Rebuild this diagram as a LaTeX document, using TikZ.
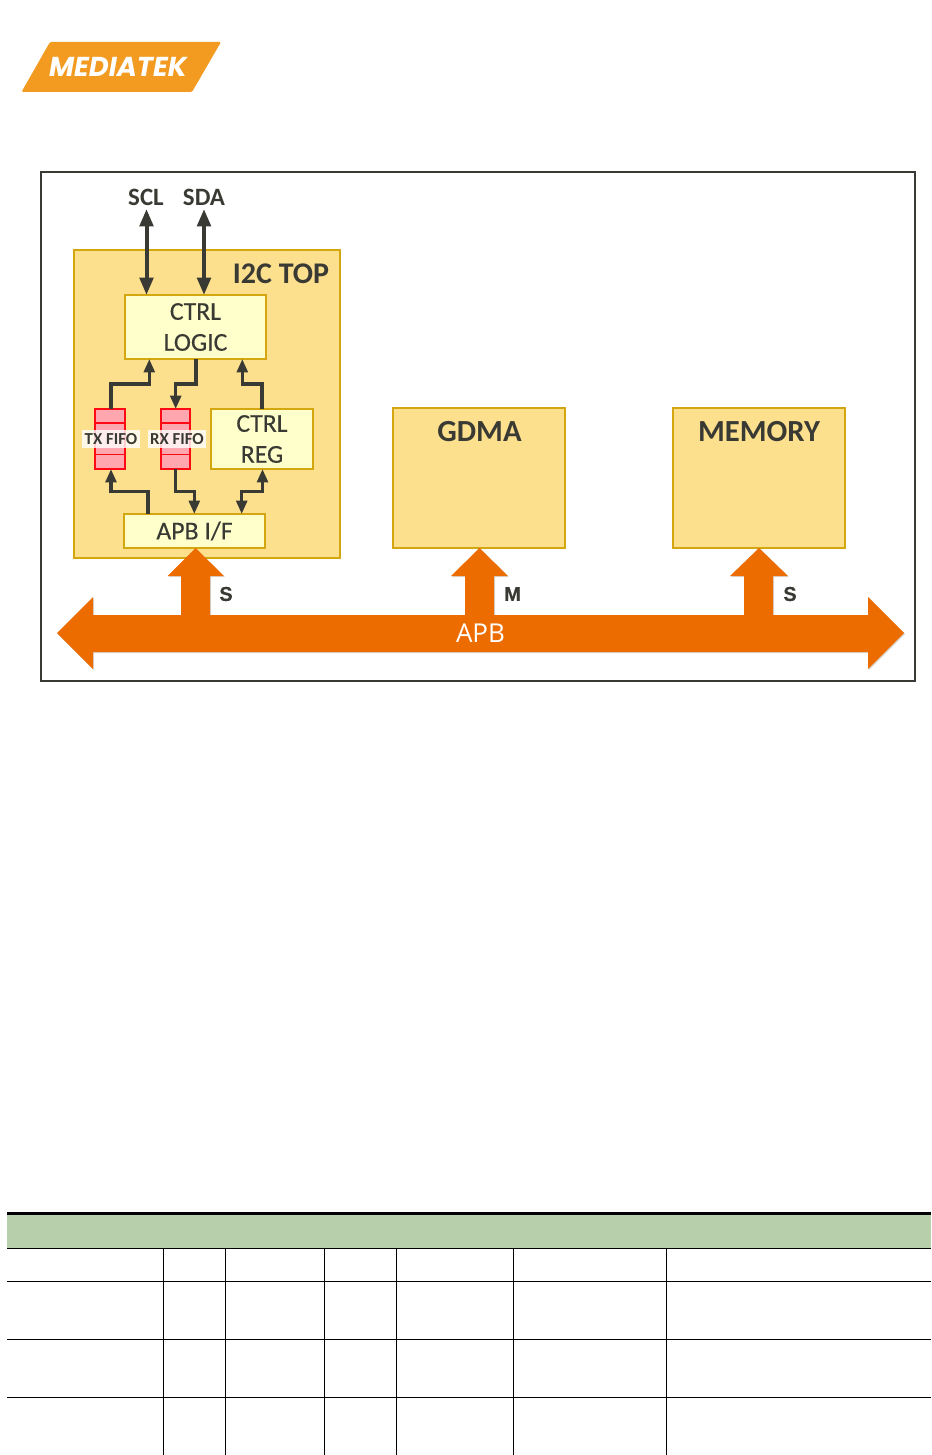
\documentclass[tikz,border=0pt]{standalone}
\usepackage{fontspec}
\setmainfont{Carlito}
\newfontfamily\semifont[FakeBold=0.35]{Carlito}
\newfontfamily\opensans{Open Sans}
\newfontfamily\logofont{Poppins}
\newfontfamily\arialfont[FakeBold=0.3]{Liberation Sans Bold}
\usetikzlibrary{arrows.meta}
\definecolor{ink}{HTML}{3A3A34}
\definecolor{panel}{HTML}{FDE08E}
\definecolor{pale}{HTML}{FFFFCC}
\definecolor{gold}{HTML}{D4A60F}
\definecolor{busor}{HTML}{ED6C00}
\definecolor{logoor}{HTML}{F39A21}
\definecolor{fifopink}{HTML}{FFA6AE}
\definecolor{fifored}{HTML}{FF0A14}
\definecolor{tablegreen}{HTML}{B7CFAB}
\tikzset{
  x=0.75pt,y=-0.75pt,
  goldbox/.style={draw=gold,line width=1.6pt,inner sep=0pt,outer sep=0pt,text=ink},
  big/.style={goldbox,fill=panel},
  small/.style={goldbox,fill=pale,align=center,font=\semifont\fontsize{19.3}{23.2}\selectfont},
  fifo/.style={draw=fifored,fill=fifopink,line width=1.5pt,inner sep=0pt,outer sep=0pt},
  fifolabel/.style={fill=white,fill opacity=.8,text opacity=1,text=ink,inner sep=0pt,font=\bfseries\fontsize{12.6}{14}\selectfont},
  thin arrow/.style={draw=ink,line width=2.6pt,-{Triangle[length=10pt,width=8pt]}},
  both arrow/.style={draw=ink,line width=2.6pt,{Triangle[length=10pt,width=8pt]}-{Triangle[length=10pt,width=8pt]}},
  pin arrow/.style={draw=ink,line width=3pt,{Triangle[length=13pt,width=10pt]}-{Triangle[length=13pt,width=10pt]}},
  pinlabel/.style={text=ink,font=\fontsize{18.7}{22}\selectfont\bfseries,inner sep=0pt},
  buslabel/.style={text=ink,inner sep=0pt,font=\arialfont\fontsize{15}{17}\selectfont},
  rule/.style={draw=black,line width=.9pt},
  col/.style={draw=black,line width=.6pt},
}
\begin{document}
\begin{tikzpicture}
\useasboundingbox (0,0) rectangle (931,1455);
\fill[white] (0,0) rectangle (931,1455);
% logo
\fill[logoor,rounded corners=1pt] (21.5,92) -- (50,42) -- (221,42) -- (192,92) -- cycle;
\node[text=white,inner sep=0pt] (logotext) at (118,67) {\logofont\bfseries\itshape\fontsize{20.5}{21}\selectfont MEDIATEK};
% frame
\draw[draw=ink,line width=1.5pt] (41,172) rectangle (915,681);
% boxes
\node[big,minimum width=266*0.75pt,minimum height=308*0.75pt] (top) at (207,404) {};
\node[text=ink,inner sep=0pt,font=\bfseries\fontsize{22.5}{25}\selectfont] (toplabel) at (281,274) {I2C TOP};
\node[small,minimum width=141*0.75pt,minimum height=64*0.75pt] (logic) at (195.5,327) {\raisebox{-1pt}{CTRL}\\\raisebox{-1pt}{LOGIC}};
\node[small,minimum width=102*0.75pt,minimum height=60*0.75pt] (reg) at (262,439) {\raisebox{-1pt}{CTRL}\\\raisebox{-1pt}{REG}};
\node[small,minimum width=141*0.75pt,minimum height=34*0.75pt] (apb) at (194.5,531) {APB I/F};
\node[fifo,minimum width=30*0.75pt,minimum height=60*0.75pt] (tx) at (110,439) {};
\node[fifo,minimum width=29.5*0.75pt,minimum height=60*0.75pt] (rx) at (175.5,439) {};
\draw[fifored,line width=1.3pt] (tx.west |- 0,423) -- (tx.east |- 0,423) (tx.west |- 0,454.5) -- (tx.east |- 0,454.5);
\draw[fifored,line width=1.3pt] (rx.west |- 0,423) -- (rx.east |- 0,423) (rx.west |- 0,454.5) -- (rx.east |- 0,454.5);
\node[fifolabel,minimum width=58*0.75pt,minimum height=18*0.75pt] (txl) at (111,439) {TX FIFO};
\node[fifolabel,minimum width=58*0.75pt,minimum height=18*0.75pt] (rxl) at (177,439) {RX FIFO};
\node[big,minimum width=172*0.75pt,minimum height=140*0.75pt,text=ink] (gdma) at (479,478) {};
\node[big,minimum width=172*0.75pt,minimum height=140*0.75pt,text=ink] (mem) at (759,478) {};
\node[text=ink,inner sep=0pt,font=\bfseries\fontsize{23}{26}\selectfont] (gdmal) at (479.5,432) {GDMA};
\node[text=ink,inner sep=0pt,font=\bfseries\fontsize{23}{26}\selectfont] (meml) at (759,432) {MEMORY};
% pins
\node[pinlabel] (scl) at (146,197) {SCL};
\node[pinlabel] (sda) at (204,197) {SDA};
\coordinate (sclin) at (146.5,295);
\coordinate (sdain) at (204,295);
\coordinate (sclout) at (146.5,209);
\coordinate (sdaout) at (204,209);
\draw[pin arrow] (sclout) -- (sclin);
\draw[pin arrow] (sdaout) -- (sdain);
% inner connectors
\coordinate (logicA) at (149.3,359);
\coordinate (logicB) at (196,359);
\coordinate (logicC) at (242.3,359);
\coordinate (txT) at (111,409);
\coordinate (txB) at (111,469);
\coordinate (rxT) at (175.7,409);
\coordinate (rxB) at (175.7,469);
\coordinate (regT) at (262,409);
\coordinate (regB) at (262.5,469);
\coordinate (apbA) at (148,514);
\coordinate (apbB) at (194.3,514);
\coordinate (apbC) at (241.7,514);
\draw[thin arrow] (txT) |- (149.3,384) -- (logicA);
\draw[thin arrow] (logicB) |- (175.7,384) -- (rxT);
\draw[thin arrow] (regT) |- (242.3,384) -- (logicC);
\draw[thin arrow] (apbA) |- (111,491.7) -- (txB);
\draw[thin arrow] (rxB) |- (194.3,491.7) -- (apbB);
\draw[both arrow] (regB) |- (241.7,491.7) -- (apbC);
% APB bus
\def\buspath{(57,633) -- (93,597) -- (93,615) -- (181,615) -- (181,576) -- (167.5,576) -- (195.5,548) -- (224,576) -- (210,576) -- (210,615)
 -- (465,615) -- (465,576) -- (451,576) -- (479.5,548) -- (508,576) -- (494,576) -- (494,615)
 -- (744,615) -- (744,576) -- (730,576) -- (759,548) -- (788,576) -- (773,576) -- (773,615)
 -- (868,615) -- (868,597) -- (904,633) -- (868,669) -- (868,652) -- (93,652) -- (93,669) -- cycle}
\fill[black,opacity=.15,xshift=.8pt,yshift=-.8pt] \buspath;
\fill[busor] \buspath;
\node[text=white,inner sep=0pt,font=\opensans\fontsize{19.5}{22}\selectfont] (apbl) at (480.5,633) {APB};
\node[buslabel] (s1) at (226,594) {S};
\node[buslabel] (m1) at (512.5,594) {M};
\node[buslabel] (s2) at (790,594) {S};
% table
\fill[tablegreen] (7,1213) rectangle (931,1248);
\draw[draw=black,line width=2.2pt] (7,1213.5) -- (931,1213.5);
\foreach \y in {1248.5,1281.5,1339.5,1397.5} \draw[rule] (7,\y) -- (931,\y);
\foreach \x in {163.3,225.6,324.8,396.7,513.7,666.3} \draw[col] (\x,1248) -- (\x,1455);
\end{tikzpicture}
\end{document}
